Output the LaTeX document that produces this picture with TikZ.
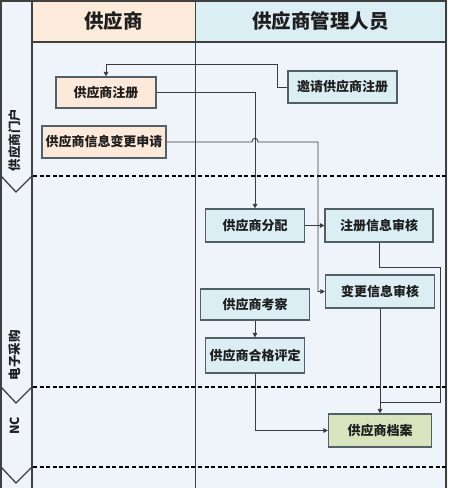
\documentclass[tikz,border=0pt]{standalone}
\usepackage{fontspec}
\setmainfont{Noto Sans CJK SC}
\usetikzlibrary{arrows.meta}
\definecolor{bodyfill}{RGB}{239,243,250}
\definecolor{peachh}{RGB}{252,234,218}
\definecolor{cyanh}{RGB}{218,238,243}
\definecolor{peachb}{RGB}{253,233,217}
\definecolor{cyanb}{RGB}{218,238,243}
\definecolor{greenb}{RGB}{215,228,189}
\definecolor{boxline}{RGB}{80,96,102}
\definecolor{frameline}{RGB}{64,64,64}
\definecolor{conn}{RGB}{60,60,60}
\definecolor{txt}{RGB}{30,30,30}
\begin{document}
\begin{tikzpicture}[x=1pt,y=-1pt,
  box/.style={draw=boxline, line width=1.2pt, inner sep=0pt, text=txt,
    font=\bfseries\fontsize{13}{14}\selectfont},
  cbox/.style={box, fill=cyanb},
  pbox/.style={box, fill=peachb},
  gbox/.style={box, fill=greenb},
  conn/.style={draw=conn, line width=0.9pt},
  arr/.style={conn, -{Triangle[length=4.5pt,width=4.5pt]}},
  lanediv/.style={black, line width=1.8pt, dash pattern=on 4pt off 2.6pt},
  lanelbl/.style={rotate=90, text=txt, font=\bfseries\fontsize{12.5}{13}\selectfont},
  hdr/.style={text=txt, font=\bfseries\fontsize{19.5}{20}\selectfont}]
\useasboundingbox (0,0) rectangle (448,488);
% backgrounds
\fill[bodyfill] (0,0) rectangle (448,488);
\fill[peachh] (32,1) rectangle (195,42);
\fill[cyanh] (195,1) rectangle (446,42);
% frame
\draw[frameline, line width=1.2pt] (1,488) -- (1,1) -- (446,1) -- (446,488);
\draw[frameline, line width=1.2pt] (32,1) -- (32,488);
\draw[frameline, line width=1.2pt] (32,42) -- (446,42);
\draw[frameline, line width=0.9pt] (195,1) -- (195,488);
% headers
\node[hdr] (h1) at (113.5,21) {供应商};
\node[hdr] (h2) at (320.5,21) {供应商管理人员};
% lane dividers and chevrons
\foreach \yy in {176,387,467}{
  \draw[lanediv] (33,\yy) -- (446,\yy);
  \draw[frameline, line width=1.3pt] (1,\yy) -- (16,\yy+16) -- (32,\yy);
}
\node[lanelbl] (l1) at (15,140) {供应商门户};
\node[lanelbl] (l2) at (15,355) {电子采购};
\node[lanelbl] (l3) at (15,426) {NC};
% boxes
\node[cbox, minimum width=109pt, minimum height=32pt] (inv) at (342.5,87) {邀请供应商注册};
\node[pbox, minimum width=100pt, minimum height=31pt] (reg) at (106,92.5) {供应商注册};
\node[pbox, minimum width=124pt, minimum height=32pt] (chg) at (104,142) {供应商信息变更申请};
\node[cbox, minimum width=99pt, minimum height=33pt] (alloc) at (255,225.5) {供应商分配};
\node[cbox, minimum width=108pt, minimum height=33pt] (regrev) at (379,225.5) {注册信息审核};
\node[cbox, minimum width=109pt, minimum height=33pt] (chgrev) at (380,291.5) {变更信息审核};
\node[cbox, minimum width=109pt, minimum height=31pt] (insp) at (255,304.5) {供应商考察};
\node[cbox, minimum width=99pt, minimum height=35pt] (qual) at (255,355.5) {供应商合格评定};
\node[gbox, minimum width=103pt, minimum height=33pt] (archive) at (380,430.5) {供应商档案};
% connectors
\coordinate (a1) at (277,64);
\draw[arr] (inv.west) -| (a1) -| (reg.north);
\draw[arr] (reg.east) -| (alloc.north);
\coordinate (c1) at (252,142);
\coordinate (c2) at (258,142);
\coordinate (c3) at (318,142);
\draw[arr] (chg.east) -- (c1) .. controls (252,137) and (258,137) .. (c2) -- (c3) |- (chgrev.west);
\draw[arr] (alloc.east) -- (regrev.west);
\coordinate (e1) at (440,267);
\coordinate (j) at (380,402);
\draw[conn] (regrev.south) |- (e1) |- (j);
\draw[arr] (chgrev.south) -- (archive.north);
\draw[arr] (insp.south) -- (qual.north);
\draw[arr] (qual.south) |- (archive.west);
\end{tikzpicture}
\end{document}
